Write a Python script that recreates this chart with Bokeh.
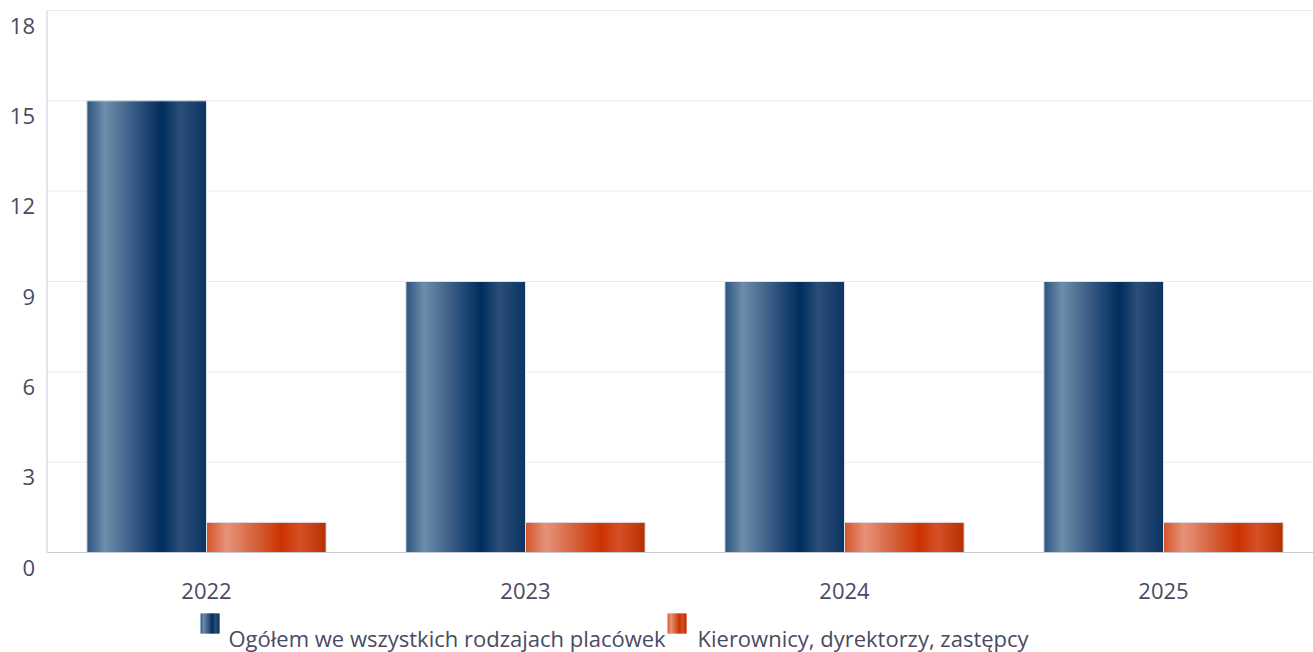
import numpy as np
from bokeh.plotting import figure
from bokeh.layouts import column
from bokeh.models import ColumnDataSource, Range1d
from bokeh.core.properties import value
from bokeh.embed import file_html
from bokeh.resources import INLINE

# ---- data ----
years = ["2022", "2023", "2024", "2025"]
ogolem = [15, 9, 9, 9]
kierownicy = [1, 1, 1, 1]
y_ticks = [0, 3, 6, 9, 12, 15, 18]
series_names = ["Ogółem we wszystkich rodzajach placówek", "Kierownicy, dyrektorzy, zastępcy"]

# ---- style / layout ----
blue_stops = [(0.0, "#2c5580"), (0.15, "#6f8eab"), (0.35, "#41638a"),
              (0.63, "#002d5e"), (0.78, "#2b4f77"), (1.0, "#0c3463")]
orange_stops = [(0.0, "#d4552c"), (0.17, "#e6937a"), (0.40, "#d6643e"),
                (0.63, "#cc3300"), (0.78, "#d55126"), (1.0, "#b93000")]
TXT = "#4a4a63"
FONT = "Open Sans"
FS = "22px"
GRID = "#ebebef"
AXIS = "#ccccdc"
N = 100
bar_w = 0.375
W = 1313
H_MAIN = 612
H_LEG = 40
Y_TOP_PX, Y_ZERO_PX = 10, 552       # pixel rows of the top and zero of the value axis
X_LEFT_PX, CAT_PX = 46.5, 319.0     # plot-area left edge and category pitch (px)


def h2r(h):
    return np.array([int(h[i:i + 2], 16) for i in (1, 3, 5)], dtype=float)


def interp(stops, f):
    for (f0, c0), (f1, c1) in zip(stops[:-1], stops[1:]):
        if f0 <= f <= f1:
            t = (f - f0) / (f1 - f0)
            c = h2r(c0) * (1 - t) + h2r(c1) * t
            return "#%02x%02x%02x" % tuple(int(round(v)) for v in c)
    return stops[-1][1]


def gradient_strips(x_lefts, widths, tops, bottoms, stops, n):
    d = dict(left=[], right=[], top=[], bottom=[], color=[])
    for x0, w, t, b in zip(x_lefts, widths, tops, bottoms):
        step = w / n
        for j in range(n):
            d["left"].append(x0 + j * step)
            d["right"].append(min(x0 + (j + 1.8) * step, x0 + w))
            d["top"].append(t)
            d["bottom"].append(b)
            d["color"].append(interp(stops, (j + 0.5) / n))
    return ColumnDataSource(d)


y_max = max(y_ticks)
px_per_y = (Y_ZERO_PX - Y_TOP_PX) / y_max
y_lo = -(H_MAIN - Y_ZERO_PX) / px_per_y
y_hi = y_max + Y_TOP_PX / px_per_y
x_lo = -0.5 - X_LEFT_PX / CAT_PX
x_hi = x_lo + W / CAT_PX

# ---------------- main chart ----------------
p = figure(width=W, height=H_MAIN, x_range=Range1d(x_lo, x_hi), y_range=Range1d(y_lo, y_hi),
           output_backend="svg", toolbar_location=None, x_axis_type=None, y_axis_type=None,
           min_border=0)
p.outline_line_color = None
p.grid.visible = False

# grid lines
gl = [t for t in y_ticks if t != 0]
p.segment(x0=[-0.5] * len(gl), x1=[x_hi] * len(gl), y0=gl, y1=gl, line_color=GRID, line_width=1)

# bars
for vals, off, stops in [(ogolem, -bar_w / 2, blue_stops), (kierownicy, bar_w / 2, orange_stops)]:
    xs = [i + off - bar_w / 2 for i in range(len(vals))]
    src = gradient_strips(xs, [bar_w] * len(vals), vals, [0] * len(vals), stops, N)
    p.quad(left="left", right="right", top="top", bottom="bottom", source=src,
           fill_color="color", line_color=None)
    bsrc = ColumnDataSource(dict(x=[i + off for i in range(len(vals))], top=vals))
    p.vbar(x="x", top="top", width=bar_w, source=bsrc, fill_color=None,
           line_color="#dde3ea", line_width=1)

# axis lines
p.segment(x0=[-0.5, -0.5], x1=[-0.5, x_hi], y0=[0, 0], y1=[y_max, 0], line_color=AXIS, line_width=1)

# tick labels
p.text(x=[-0.5] * len(y_ticks), y=y_ticks, text=[str(t) for t in y_ticks],
       x_offset=-12, y_offset=15, text_align="right", text_baseline="middle",
       text_font=value(FONT), text_font_size=FS, text_color=TXT)
p.text(x=list(range(len(years))), y=[0] * len(years), text=years,
       y_offset=38, text_align="center", text_baseline="middle",
       text_font=value(FONT), text_font_size=FS, text_color=TXT)

# ---------------- legend strip ----------------
lg = figure(width=W, height=H_LEG, x_range=Range1d(0, W), y_range=Range1d(0, H_LEG),
            output_backend="svg", toolbar_location=None, x_axis_type=None, y_axis_type=None,
            min_border=0)
lg.outline_line_color = None
lg.grid.visible = False

sq_x = [200, 667]      # legend square left edges (px)
sq_w, sq_y0, sq_y1 = 19, 19, 39
txt_x = [228, 697]
txt_y = 15
for k, stops in enumerate([blue_stops, orange_stops]):
    src = gradient_strips([sq_x[k]], [sq_w], [sq_y1], [sq_y0], stops, 20)
    lg.quad(left="left", right="right", top="top", bottom="bottom", source=src,
            fill_color="color", line_color=None)
lg.text(x=txt_x, y=[txt_y, txt_y], text=series_names, text_font=value(FONT),
        text_font_size=FS, text_color=TXT, text_baseline="middle", text_align="left")

layout = column(p, lg, spacing=0)
open("out.html", "w").write(file_html(layout, INLINE))
